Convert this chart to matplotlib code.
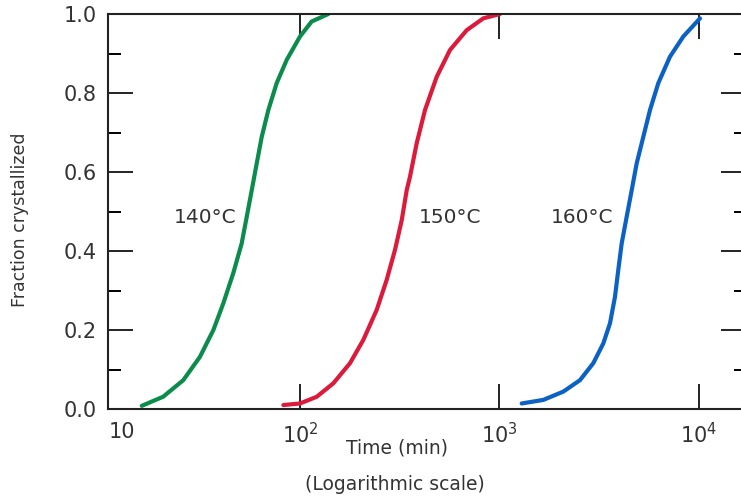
import numpy as np
import matplotlib
matplotlib.use("Agg")
import matplotlib.pyplot as plt
from matplotlib.ticker import FixedLocator, NullLocator, FixedFormatter

# data (time in min, fraction crystallized)
t_140 = [16.1, 20.6, 26.0, 31.5, 36.8, 41.3, 46.3, 51.0, 54.1, 57.3, 60.7, 64.3, 69.4, 76.4, 85.8, 100, 114.4, 138.7]
f_140 = [0.008, 0.031, 0.073, 0.132, 0.200, 0.268, 0.344, 0.419, 0.487, 0.554, 0.622, 0.689, 0.757, 0.825, 0.884, 0.943, 0.981, 1.0]

t_150 = [82.5, 100, 121.3, 146.9, 178.1, 207.7, 242.4, 272.0, 299.4, 323.5, 342.7, 355.9, 384.6, 423.3, 484.4, 564.9, 684.8, 829.6, 1005]
f_150 = [0.010, 0.014, 0.031, 0.065, 0.116, 0.175, 0.251, 0.327, 0.403, 0.478, 0.554, 0.588, 0.673, 0.757, 0.841, 0.909, 0.959, 0.989, 1.0]

t_160 = [1292, 1658, 2088, 2532, 2952, 3314, 3580, 3792, 3939, 4097, 4341, 4599, 4872, 5258, 5681, 6252, 7154, 8344, 10116]
f_160 = [0.014, 0.023, 0.044, 0.073, 0.116, 0.166, 0.217, 0.284, 0.352, 0.419, 0.487, 0.554, 0.622, 0.689, 0.757, 0.825, 0.892, 0.943, 0.989]

labels = ["140°C", "150°C", "160°C"]
label_x = [33.4, 565, 2594]
label_y = [0.485, 0.485, 0.485]
colors = ["#0b8c4c", "#dc1a3c", "#0b62c4"]

xticks = [12.8, 100, 1000, 10000]
xticklabels = ["10", r"$10^{2}$", r"$10^{3}$", r"$10^{4}$"]

fig = plt.figure(figsize=(7.41, 4.96), dpi=100)
ax = fig.add_axes([108/741, 87/496, 638/741, 395/496])

for t, f, c in zip([t_140, t_150, t_160], [f_140, f_150, f_160], colors):
    ax.plot(t, f, color=c, lw=3, solid_capstyle="round", solid_joinstyle="round")

for s, x, y in zip(labels, label_x, label_y):
    ax.text(x, y, s, ha="center", va="center", fontsize=14.5, color="#333333")

ax.set_xscale("log")
ax.set_xlim(10**1.0376, 10**4.2356)
ax.set_ylim(0, 1)

ax.xaxis.set_major_locator(FixedLocator(xticks))
ax.xaxis.set_major_formatter(FixedFormatter(xticklabels))
ax.xaxis.set_minor_locator(NullLocator())
ax.tick_params(axis="x", which="major", direction="in", length=18, width=1.4,
               top=True, bottom=True, labelsize=15, pad=9, colors="#222222",
               labelcolor="#333333")
tk = ax.xaxis.get_major_ticks()[0]
tk.tick1line.set_visible(False)
tk.tick2line.set_visible(False)

ax.set_yticks([0, 0.2, 0.4, 0.6, 0.8, 1.0])
ax.set_yticklabels(["0.0", "0.2", "0.4", "0.6", "0.8", "1.0"])
ax.set_yticks([0.1, 0.3, 0.5, 0.7, 0.9], minor=True)
ax.tick_params(axis="y", which="major", direction="in", length=18, width=1.4,
               left=True, right=True, labelsize=15, pad=8, colors="#222222",
               labelcolor="#333333")
ax.tick_params(axis="y", which="minor", direction="in", length=9, width=1.4,
               left=True, right=True)

for sp in ax.spines.values():
    sp.set_linewidth(1.5)
    sp.set_color("#222222")

fig.text(20/741, 1 - 220/496, "Fraction crystallized", rotation=90, ha="center", va="center",
         fontsize=12.5, color="#333333")
fig.text(397/741, 1 - 448/496, "Time (min)", ha="center", va="center", fontsize=13.5, color="#333333")
fig.text(395/741, 1 - 485/496, "(Logarithmic scale)", ha="center", va="center", fontsize=13.5, color="#333333")

fig.savefig("out.png", dpi=100)
